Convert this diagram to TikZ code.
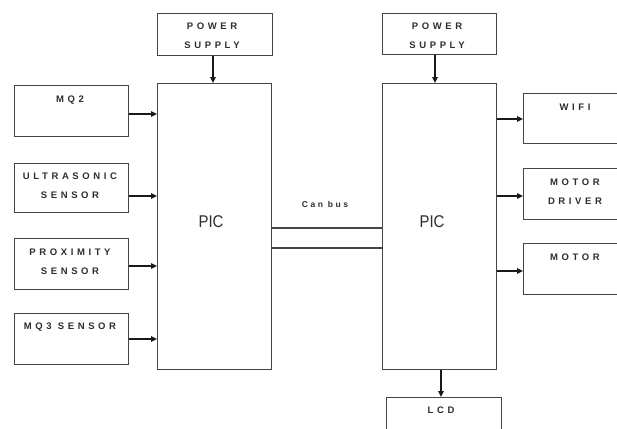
\documentclass[tikz,border=0pt]{standalone}
\usepackage{fontspec}
\setmainfont{Liberation Sans}
\newfontfamily\labfont[LetterSpace=38]{Liberation Sans}
\newfontfamily\busfont[LetterSpace=30]{Liberation Sans}
\usetikzlibrary{arrows.meta}
\definecolor{ln}{HTML}{454545}
\definecolor{tx}{HTML}{2E2E2E}
\begin{document}
\begin{tikzpicture}[x=1pt,y=-1pt,
  blk/.style={draw=ln,line width=1.4pt,anchor=north west,inner sep=0pt,minimum width=#1},
  blk/.default=114pt,
  lab/.style={text=tx,inner sep=0pt,align=center,font=\labfont\bfseries\fontsize{9.5}{19}\selectfont},
  big/.style={text=tx,inner sep=0pt,font=\fontsize{17}{18}\selectfont,xscale=0.88},
  arr/.style={draw=black!90,line width=1.4pt,-{Triangle[length=6pt,width=5.5pt]}},
  bus/.style={draw=ln,line width=1.4pt}]
\useasboundingbox (0,0) rectangle (617,428);
\clip (0,0) rectangle (617,428);
\fill[white] (0,0) rectangle (617,428);
% blocks
\node[blk=115pt,minimum height=42pt] (psL) at (157,13) {};
\node[blk,minimum height=41pt] (psR) at (382,13) {};
\node[blk,minimum height=286pt] (picL) at (157,83) {};
\node[blk,minimum height=286pt] (picR) at (382,83) {};
\node[blk,minimum height=51pt] (mq2) at (14,85) {};
\node[blk,minimum height=49pt] (ultra) at (14,163) {};
\node[blk,minimum height=51pt] (prox) at (14,238) {};
\node[blk,minimum height=51pt] (mq3) at (14,313) {};
\node[blk=110pt,minimum height=50pt] (wifi) at (523,93) {};
\node[blk=110pt,minimum height=51pt] (mdrv) at (523,168) {};
\node[blk=110pt,minimum height=51pt] (motor) at (523,243) {};
\node[blk=115pt,minimum height=50pt] (lcd) at (386,397) {};
% labels
\node[lab] (tpsL) at (212,36) {POWER\\SUPPLY};
\node[lab] (tpsR) at (437,36) {POWER\\SUPPLY};
\node[lab] (tmq2) at (70,100) {MQ2};
\node[lab] (tultra) at (70,185.5) {ULTRASONIC\\SENSOR};
\node[lab] (tprox) at (70,261.5) {PROXIMITY\\SENSOR};
\node[lab] (tmq3) at (70,327) {MQ3 SENSOR};
\node[lab] (twifi) at (575,107) {WIFI};
\node[lab] (tmdrv) at (575,191.5) {MOTOR\\DRIVER};
\node[lab] (tmotor) at (575,257) {MOTOR};
\node[lab] (tlcd) at (441,410) {LCD};
\node[big] (tpicL) at (211,222) {PIC};
\node[big] (tpicR) at (432,222) {PIC};
\node[lab,font=\busfont\bfseries\fontsize{8.5}{9}\selectfont] (tbus) at (325,204) {Can bus};
% connectors
\draw[arr] (psL.south -| 213,0) -- (picL.north -| 213,0);
\draw[arr] (psR.south -| 435,0) -- (picR.north -| 435,0);
\draw[arr] (mq2.east |- 0,114) -- (picL.west |- 0,114);
\draw[arr] (ultra.east |- 0,196) -- (picL.west |- 0,196);
\draw[arr] (prox.east |- 0,266) -- (picL.west |- 0,266);
\draw[arr] (mq3.east |- 0,339) -- (picL.west |- 0,339);
\draw[arr] (picR.east |- 0,119) -- (wifi.west |- 0,119);
\draw[arr] (picR.east |- 0,196) -- (mdrv.west |- 0,196);
\draw[arr] (picR.east |- 0,271) -- (motor.west |- 0,271);
\draw[arr] (picR.south -| 441,0) -- (lcd.north -| 441,0);
\draw[bus] (picL.east |- 0,228) -- (picR.west |- 0,228);
\draw[bus] (picL.east |- 0,248) -- (picR.west |- 0,248);
\end{tikzpicture}
\end{document}
